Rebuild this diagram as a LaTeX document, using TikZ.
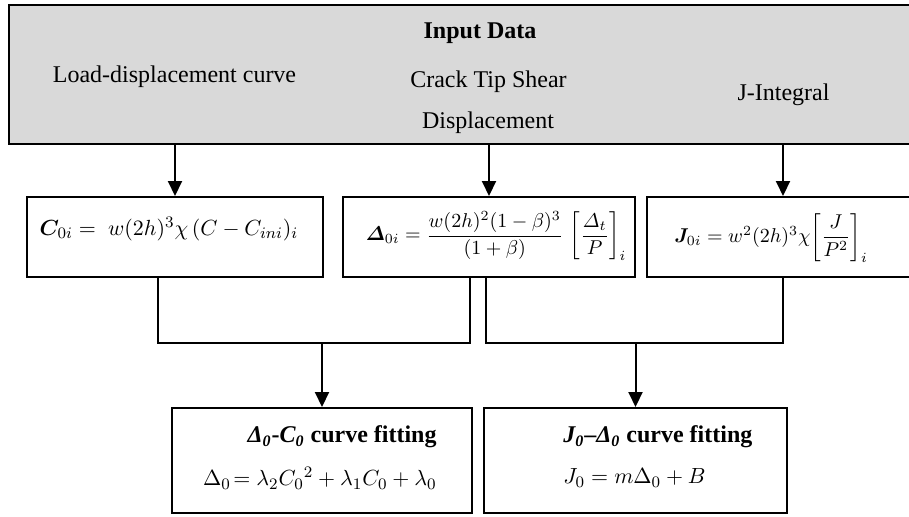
\documentclass[tikz,border=0pt]{standalone}
\usepackage{amsmath}
\usepackage{bm}
\usepackage[no-math]{fontspec}
\setmainfont{Liberation Serif}
\usetikzlibrary{arrows.meta}

\begin{document}
\begin{tikzpicture}[x=0.5pt,y=-0.5pt,
  box/.style={draw, line width=1pt, inner sep=0pt},
  arr/.style={line width=1pt, -{Triangle[width=7pt,length=7.5pt]}},
  link/.style={line width=1pt},
  txt/.style={inner sep=0pt, font=\fontsize{12}{14}\selectfont},
  mth/.style={inner sep=0pt, font=\fontsize{#1}{14}\selectfont}]
\useasboundingbox (0,0) rectangle (909,516);
\clip (0,0) rectangle (909,516);

% input panel
\node[box, fill={rgb,255:red,217;green,217;blue,217}, minimum width=465.5pt, minimum height=69.5pt] (inp) at (474.5,74.5) {};
\node[txt, anchor=base] (title) at (480,38) {\textbf{Input Data}};
\node[txt, anchor=base] (ld) at (174.5,82) {Load-displacement curve};
\node[txt, anchor=base] (cts1) at (488.5,87) {Crack Tip Shear};
\node[txt, anchor=base] (cts2) at (488,128) {Displacement};
\node[txt, anchor=base] (ji) at (783.5,100) {J-Integral};

% normalised quantities
\node[box, minimum width=148pt, minimum height=40pt] (c0) at (175,237) {};
\node[box, minimum width=146pt, minimum height=40pt] (d0) at (489,237) {};
\node[box, minimum width=136pt, minimum height=40pt] (j0) at (783,237) {};
\node[mth=11] (c0f) at (169,229) {$\bm{C}_{0i} = \; w(2h)^3\chi\,(C - C_{ini})_i$};
\node[mth=10] (d0f) at (496,236) {$\bm{\varDelta}_{0i} = \dfrac{w(2h)^2(1-\beta)^3}{(1+\beta)}\,\left[\dfrac{\varDelta_t}{P}\right]_i$};
\node[mth=10] (j0f) at (771,238) {$\bm{J}_{0i} = w^2(2h)^3\chi\!\left[\dfrac{J}{P^2}\right]_i$};

% curve fits
\node[box, minimum width=150pt, minimum height=52.5pt] (fit1) at (322,460.5) {};
\node[box, minimum width=151.5pt, minimum height=52.5pt] (fit2) at (635.5,460.5) {};
\node[txt, anchor=east] (fit1t) at (437,437) {\textbf{\textit{Δ\textsubscript{0}}-\textit{C\textsubscript{0}} curve fitting}};
\node[mth=11, anchor=east] (fit1e) at (437,478) {$\Delta_0\!= \lambda_2 {C_0}^2 + \lambda_1 C_0 + \lambda_0$};
\node[txt, anchor=west] (fit2t) at (563,437) {\textbf{\textit{J\textsubscript{0}}–\textit{Δ\textsubscript{0}} curve fitting}};
\node[mth=11, anchor=west] (fit2e) at (563,478) {$J_0 = m\Delta_0 + B$};

% arrows from the input panel
\draw[arr] (inp.south -| c0.north) -- (c0.north);
\draw[arr] (inp.south -| d0.north) -- (d0.north);
\draw[arr] (inp.south -| j0.north) -- (j0.north);

% joining brackets
\coordinate (b1a) at (158,343);
\coordinate (b1b) at (470,343);
\coordinate (b2a) at (486,343);
\coordinate (b2b) at (783,343);
\draw[link] (c0.south -| b1a) -- (b1a) -- (b1b) -- (d0.south -| b1b);
\draw[link] (d0.south -| b2a) -- (b2a) -- (b2b) -- (j0.south -| b2b);
\draw[arr] (fit1.north |- b1a) -- (fit1.north);
\draw[arr] (fit2.north |- b2a) -- (fit2.north);
\end{tikzpicture}
\end{document}
